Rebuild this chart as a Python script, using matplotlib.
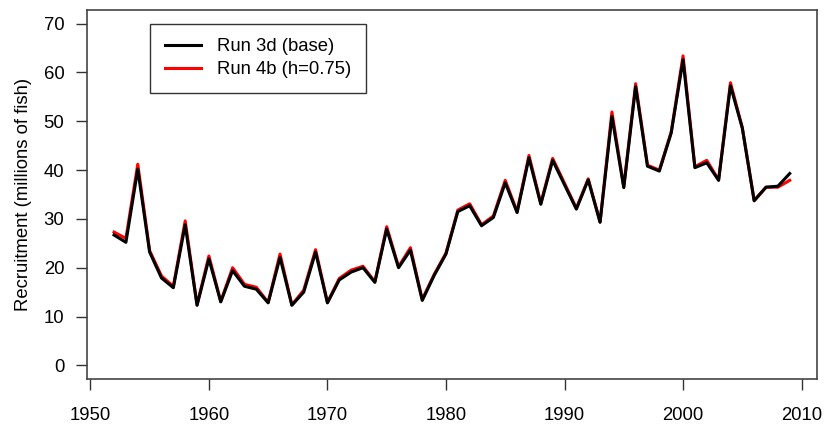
import matplotlib
matplotlib.use("Agg")
import matplotlib.pyplot as plt
import numpy as np

# recruitment estimates (millions of fish)
years = np.arange(1952, 2010)
run_3d = [26.7, 25.2, 40.2, 23.2, 17.9, 15.9, 28.8, 12.3, 21.8, 13.0,
          19.4, 16.2, 15.6, 12.8, 22.1, 12.3, 15.0, 23.2, 12.8, 17.5,
          19.1, 20.0, 17.0, 27.9, 20.0, 23.6, 13.3, 18.4, 22.8, 31.5,
          32.7, 28.6, 30.3, 37.4, 31.3, 42.5, 33.0, 42.0, 37.0, 32.0,
          38.0, 29.3, 51.0, 36.4, 57.1, 40.8, 39.8, 47.6, 62.6, 40.5,
          41.5, 37.9, 57.3, 48.6, 33.7, 36.5, 36.7, 39.3]
run_4b = [27.3, 26.0, 41.2, 23.5, 18.3, 16.2, 29.6, 12.4, 22.4, 13.1,
          20.0, 16.6, 16.0, 12.9, 22.8, 12.4, 15.4, 23.7, 12.9, 17.8,
          19.5, 20.3, 17.1, 28.4, 20.2, 24.1, 13.5, 18.6, 23.0, 31.8,
          33.1, 28.8, 30.6, 37.9, 31.5, 43.0, 33.2, 42.4, 37.3, 32.2,
          38.2, 29.4, 51.9, 36.6, 57.7, 41.0, 40.0, 47.8, 63.4, 40.7,
          42.0, 38.0, 57.9, 48.7, 33.8, 36.5, 36.5, 37.9]
labels = ["Run 3d (base)", "Run 4b (h=0.75)"]

plt.rcParams['font.family'] = ['Liberation Sans', 'DejaVu Sans']
fs = 13.3

fig = plt.figure(figsize=(8.25, 4.28), dpi=100)
ax = fig.add_axes([0.1055, 0.1145, 0.8845, 0.8621])

ax.plot(years, run_4b, color='red', lw=2.2, label=labels[1], zorder=2)
ax.plot(years, run_3d, color='black', lw=2.2, label=labels[0], zorder=3)

ax.set_xlim(1949.72, 2011.28)
ax.set_ylim(-2.8, 72.8)
ax.set_xticks(np.arange(1950, 2011, 10))
ax.set_yticks(np.arange(0, 71, 10))
ax.tick_params(direction='out', length=7.9, width=1, colors='#333333',
               labelcolor='black', labelsize=fs)
ax.tick_params(axis='x', pad=12)
ax.tick_params(axis='y', pad=8.5)
for s in ax.spines.values():
    s.set_color('#444444')
    s.set_linewidth(1.2)

ax.set_ylabel("Recruitment (millions of fish)", fontsize=fs, labelpad=8)

h, l = ax.get_legend_handles_labels()
leg = ax.legend(h[::-1], l[::-1], loc='upper left',
                bbox_to_anchor=(0.0868, 0.963), fontsize=fs,
                frameon=True, fancybox=False, edgecolor='black',
                handlelength=1.95, handletextpad=0.87, borderpad=0.8,
                labelspacing=0.32, borderaxespad=0)
leg.get_frame().set_linewidth(1.0)

fig.savefig("out.png", dpi=100)
